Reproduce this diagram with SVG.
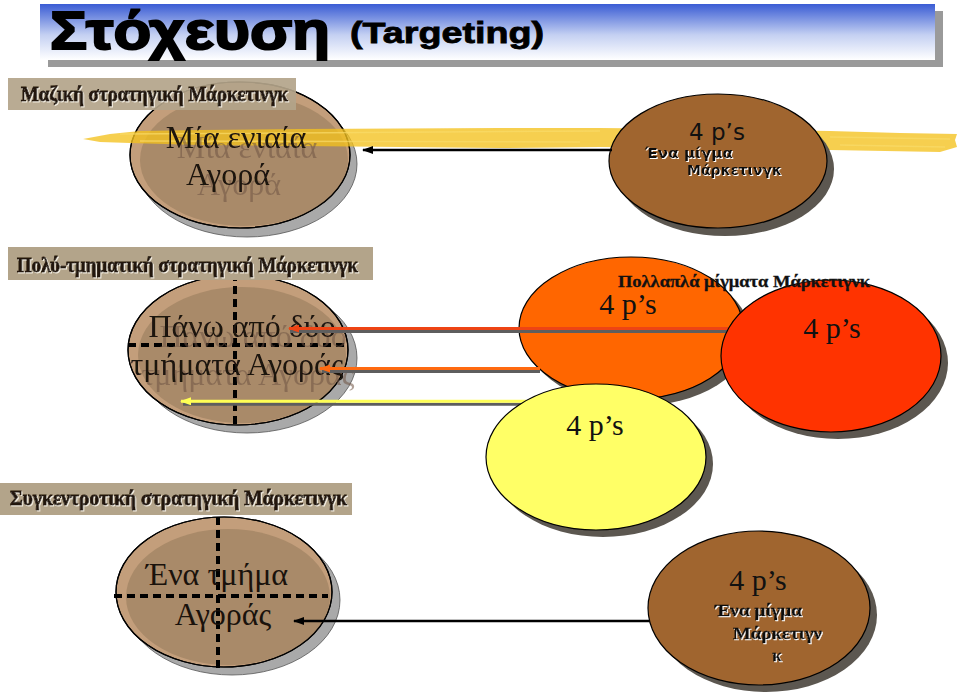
<svg xmlns="http://www.w3.org/2000/svg" width="960" height="696" viewBox="0 0 960 696">
<style>
.big{font-family:"Liberation Serif",serif;font-size:32px;fill:#1a120c;text-anchor:middle}
.lbl{font-family:"Liberation Serif",serif;font-weight:bold;font-size:21px;fill:#24160a;stroke:#24160a;stroke-width:0.9;filter:url(#emb)}
.ps{font-family:"Liberation Serif",serif;font-size:30px;fill:#111;text-anchor:middle}
.mix{font-family:"Liberation Serif",serif;font-weight:bold;font-size:17px;fill:#111;stroke:#111;stroke-width:0.4;filter:url(#wsh)}
.sh{fill:#a9a9a9;stroke:#555;stroke-width:0.8}
.dsh{fill:#5c5750}
.tanO{fill:#c39e7b;stroke:#000;stroke-width:1.2}
.tanI{fill:#a98a69}
.brown{fill:#a0652f;stroke:#000;stroke-width:1.2}
.box{fill:#b3a48a}
.dash{stroke:#000;stroke-width:4;stroke-dasharray:8 5;fill:none}
.conn{fill:none;stroke-width:3}
</style>
<defs>
<linearGradient id="bg" x1="0" y1="0" x2="0" y2="1">
<stop offset="0" stop-color="#3a5cd4"/>
<stop offset="0.55" stop-color="#c4d0f2"/>
<stop offset="1" stop-color="#ffffff"/>
</linearGradient>
<filter id="emb" x="-5%" y="-30%" width="110%" height="160%">
<feDropShadow dx="1" dy="1" stdDeviation="0" flood-color="#f4eee2"/>
</filter>
<filter id="wsh" x="-5%" y="-30%" width="110%" height="160%">
<feDropShadow dx="1" dy="1" stdDeviation="0" flood-color="#ffffff"/>
</filter>
<filter id="ghost" x="-10%" y="-30%" width="130%" height="170%">
<feOffset in="SourceAlpha" dx="11" dy="10" result="o"/>
<feFlood flood-color="#6e5443" flood-opacity="0.55"/>
<feComposite in2="o" operator="in" result="g"/>
<feMerge><feMergeNode in="g"/><feMergeNode in="SourceGraphic"/></feMerge>
</filter>
<marker id="mK" markerWidth="11" markerHeight="8" refX="10" refY="4" orient="auto" markerUnits="userSpaceOnUse"><path d="M0,0 L11,4 L0,8 Z" fill="#000"/></marker>
<marker id="mR" markerWidth="11" markerHeight="8" refX="10" refY="4" orient="auto" markerUnits="userSpaceOnUse"><path d="M0,0 L11,4 L0,8 Z" fill="#ee4414"/></marker>
<marker id="mO" markerWidth="11" markerHeight="8" refX="10" refY="4" orient="auto" markerUnits="userSpaceOnUse"><path d="M0,0 L11,4 L0,8 Z" fill="#ff6a10"/></marker>
<marker id="mY" markerWidth="11" markerHeight="8" refX="10" refY="4" orient="auto" markerUnits="userSpaceOnUse"><path d="M0,0 L11,4 L0,8 Z" fill="#ffff55"/></marker>
</defs>
<rect width="960" height="696" fill="#ffffff"/>

<g id="title">
<rect x="48" y="11" width="895" height="56" fill="#9a9a9a"/>
<rect x="40" y="4" width="895" height="56" fill="url(#bg)"/>
<text x="50" y="49" font-family="'Liberation Sans',sans-serif" font-weight="bold" font-size="54" textLength="280" lengthAdjust="spacingAndGlyphs" fill="#000" stroke="#000" stroke-width="2">Στόχευση</text>
<text x="350" y="43" font-family="'Liberation Sans',sans-serif" font-weight="bold" font-size="29" textLength="194" lengthAdjust="spacingAndGlyphs" fill="#000" stroke="#000" stroke-width="0.8">(Targeting)</text>
</g>

<g id="node-single-market">
<ellipse class="sh" cx="247" cy="164" rx="110" ry="73"/>
<ellipse class="tanO" cx="240" cy="155" rx="110" ry="73"/>
<ellipse class="tanI" cx="244" cy="160" rx="104" ry="66"/>
<ellipse cx="240" cy="155" rx="110" ry="73" fill="none" stroke="#000" stroke-width="1.2"/>
</g>

<g id="label-mass">
<rect class="box" x="8" y="78" width="288" height="32" opacity="0.92"/>
<text class="lbl" x="21" y="101" textLength="267" lengthAdjust="spacingAndGlyphs">Μαζική στρατηγική Μάρκετινγκ</text>
</g>

<g id="brush">
<path d="M83,139 L110,134 L140,131 L200,130 L300,129 L400,128.5 L500,128 L600,128 L700,129 L830,131 L900,133 L957,134 L955,140 L957,147 L940,152 L830,150 L700,148 L600,147 L500,148 L400,147 L300,146 L200,145 L130,143 L100,142 Z" fill="#f3c21d" opacity="0.78"/>
<path d="M120,134 L600,131 M140,141 L580,142 M830,137 L950,139 M840,145 L945,147" stroke="#f9dc6a" stroke-width="1.5" fill="none" opacity="0.7"/>
</g>

<g id="text-single-market" filter="url(#ghost)">
<text class="big" x="236" y="148">Μία ενιαία</text>
<text class="big" x="228" y="185">Αγορά</text>
</g>

<g id="node-one-mix">
<ellipse class="dsh" cx="725" cy="169" rx="109" ry="67"/>
<ellipse class="brown" cx="718" cy="161" rx="109" ry="67"/>
<text x="717" y="140" font-family="'DejaVu Sans',sans-serif" font-size="23" text-anchor="middle" fill="#111">4 p’s</text>
<text x="645" y="158" font-family="'DejaVu Sans',sans-serif" font-weight="bold" font-size="14" textLength="88" lengthAdjust="spacingAndGlyphs" fill="#111" filter="url(#wsh)">Ένα μίγμα</text>
<text x="687" y="175" font-family="'DejaVu Sans',sans-serif" font-weight="bold" font-size="14" textLength="95" lengthAdjust="spacingAndGlyphs" fill="#111" filter="url(#wsh)">Μάρκετινγκ</text>
</g>

<g id="node-multi-segments">
<ellipse class="sh" cx="247" cy="358" rx="110" ry="75"/>
<ellipse class="tanO" cx="238" cy="350" rx="110" ry="75"/>
<ellipse class="tanI" cx="242" cy="355" rx="104" ry="68"/>
<ellipse cx="238" cy="350" rx="110" ry="75" fill="none" stroke="#000" stroke-width="1.2"/>
<path class="dash" d="M235,273 V428 M128,345 H347"/>
<g filter="url(#ghost)">
<text class="big" x="242" y="337" font-size="33">Πάνω από δύο</text>
<text class="big" x="237" y="375" font-size="33">τμήματα Αγοράς</text>
</g>
</g>

<g id="label-multi">
<rect class="box" x="8" y="247" width="365" height="33"/>
<text class="lbl" x="17" y="272" textLength="341" lengthAdjust="spacingAndGlyphs">Πολύ-τμηματική στρατηγική Μάρκετινγκ</text>
</g>

<g id="node-one-segment">
<ellipse class="sh" cx="232" cy="600" rx="108" ry="75"/>
<ellipse class="tanO" cx="224" cy="592" rx="108" ry="75"/>
<ellipse class="tanI" cx="228" cy="597" rx="102" ry="68"/>
<ellipse cx="224" cy="592" rx="108" ry="75" fill="none" stroke="#000" stroke-width="1.2"/>
<path class="dash" d="M218,517 V668 M114,596 H328"/>
<text class="big" x="217" y="585" font-size="31">Ένα τμήμα</text>
<text class="big" x="223" y="625" font-size="31">Αγοράς</text>
</g>

<g id="label-concentrated">
<rect class="box" x="0" y="483" width="352" height="32"/>
<text class="lbl" x="10" y="505" textLength="337" lengthAdjust="spacingAndGlyphs">Συγκεντροτική στρατηγική Μάρκετινγκ</text>
</g>

<g id="node-mix-orange">
<ellipse class="dsh" cx="638" cy="335" rx="112" ry="71"/>
<ellipse cx="631" cy="328" rx="112" ry="71" fill="#ff6600" stroke="#000" stroke-width="1.2"/>
<text class="ps" x="628" y="314">4 p’s</text>
</g>

<g id="connectors">
<path d="M612,150 H363" stroke="#000" stroke-width="2.5" fill="none" marker-end="url(#mK)"/>
<path d="M728,331.5 H290" class="conn" stroke="#5e5e5e"/>
<path d="M728,328.5 H289" class="conn" stroke="#ee4414" marker-end="url(#mR)"/>
<path d="M540,371.5 H322" class="conn" stroke="#5e5e5e"/>
<path d="M540,368.5 H320" class="conn" stroke="#ff6a10" marker-end="url(#mO)"/>
<path d="M526,404.3 H183" class="conn" stroke="#5e5e5e"/>
<path d="M526,401.3 H181" class="conn" stroke="#ffff55" marker-end="url(#mY)"/>
<path d="M650,621 H294" stroke="#000" stroke-width="2.5" fill="none" marker-end="url(#mK)"/>
</g>

<g id="node-mix-red">
<ellipse class="dsh" cx="838" cy="363" rx="110" ry="76"/>
<ellipse cx="831" cy="356" rx="110" ry="76" fill="#ff3300" stroke="#000" stroke-width="1.2"/>
<text class="ps" x="832" y="338">4 p’s</text>
</g>

<g id="node-mix-yellow">
<ellipse class="dsh" cx="603" cy="464" rx="110" ry="73"/>
<ellipse cx="596" cy="457" rx="110" ry="73" fill="#ffff66" stroke="#000" stroke-width="1.2"/>
<text class="ps" x="595" y="435">4 p’s</text>
</g>

<g id="label-multi-mix">
<text x="618" y="287" font-family="'Liberation Serif',serif" font-weight="bold" font-size="17" textLength="252" lengthAdjust="spacingAndGlyphs" fill="#111" stroke="#111" stroke-width="0.3">Πολλαπλά μίγματα Μάρκετιγνκ</text>
</g>

<g id="node-one-mix-bottom">
<ellipse class="dsh" cx="766" cy="615" rx="111" ry="77"/>
<ellipse class="brown" cx="759" cy="608" rx="111" ry="77"/>
<text class="ps" x="758" y="590">4 p’s</text>
<text class="mix" x="715" y="616" textLength="87" lengthAdjust="spacingAndGlyphs">Ένα μίγμα</text>
<text class="mix" x="733" y="639" textLength="89" lengthAdjust="spacingAndGlyphs">Μάρκετιγν</text>
<text class="mix" x="777" y="661" text-anchor="middle">κ</text>
</g>
</svg>
